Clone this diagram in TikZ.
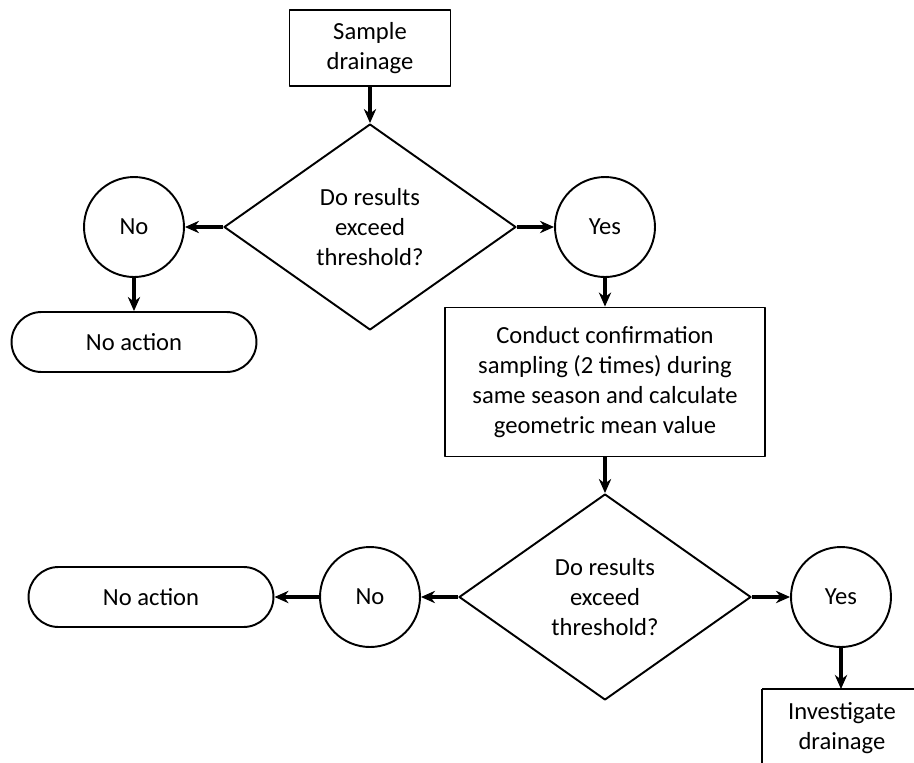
\documentclass[tikz,border=0pt]{standalone}
\usepackage{fontspec}
\setmainfont{Carlito}
\usetikzlibrary{shapes.geometric, arrows.meta}
\begin{document}
\begin{tikzpicture}[x=0.02cm, y=-0.02cm, font=\fontsize{14}{17}\selectfont, line join=round, >={Stealth[length=8pt, width=7pt]}]
			\tikzset{step-box/.style={draw, line width=1.1pt, align=center, inner sep=0pt},
				ask/.style={draw, diamond, line width=1.1pt, align=center, inner sep=0pt, aspect=1.42, minimum width=5.84cm, minimum height=4.12cm},
				reply/.style={draw, circle, line width=1.1pt, minimum size=2cm, inner sep=0pt},
				stop-box/.style={draw, line width=1.1pt, rounded corners=0.6cm, minimum width=4.9cm, minimum height=1.2cm},
				flow/.style={->, line width=1.8pt}}
			\useasboundingbox (0,0) rectangle (914,762);
			\node[step-box, minimum width=3.22cm, minimum height=1.52cm] (sample) at (370,48) {Sample\\drainage};
			\node[ask] (q1) at (370,227) {Do results\\exceed\\threshold?};
			\node[reply] (no1) at (134,227) {No};
			\node[reply] (yes1) at (605,227) {Yes};
			\node[stop-box] (act1) at (134,342) {No action};
			\node[step-box, minimum width=6.4cm, minimum height=2.98cm] (confirm) at (605,382) {Conduct confirmation\\sampling (2 times) during\\same season and calculate\\geometric mean value};
			\node[ask] (q2) at (605,597) {Do results\\exceed\\threshold?};
			\node[reply] (no2) at (370,597) {No};
			\node[reply] (yes2) at (841,597) {Yes};
			\node[stop-box] (act2) at (151,597) {No action};
			\node[step-box, draw=none, minimum height=1.52cm, text width=3.16cm, anchor=north west] (check) at (762,689) {Investigate\\drainage};
			\draw[line width=1.1pt] (check.north west) -- ([xshift=0.6cm]check.north east);
			\draw[line width=1.1pt] (check.north west) -- (check.south west);
			\draw[flow] (sample) -- (q1);
			\draw[flow] (q1) -- (no1);
			\draw[flow] (q1) -- (yes1);
			\draw[flow] (no1) -- (act1);
			\draw[flow] (yes1) -- (confirm);
			\draw[flow] (confirm) -- (q2);
			\draw[flow] (q2) -- (no2);
			\draw[flow] (no2) -- (act2);
			\draw[flow] (q2) -- (yes2);
			\draw[flow] (yes2) -- (yes2 |- check.north);
		\end{tikzpicture}
\end{document}
